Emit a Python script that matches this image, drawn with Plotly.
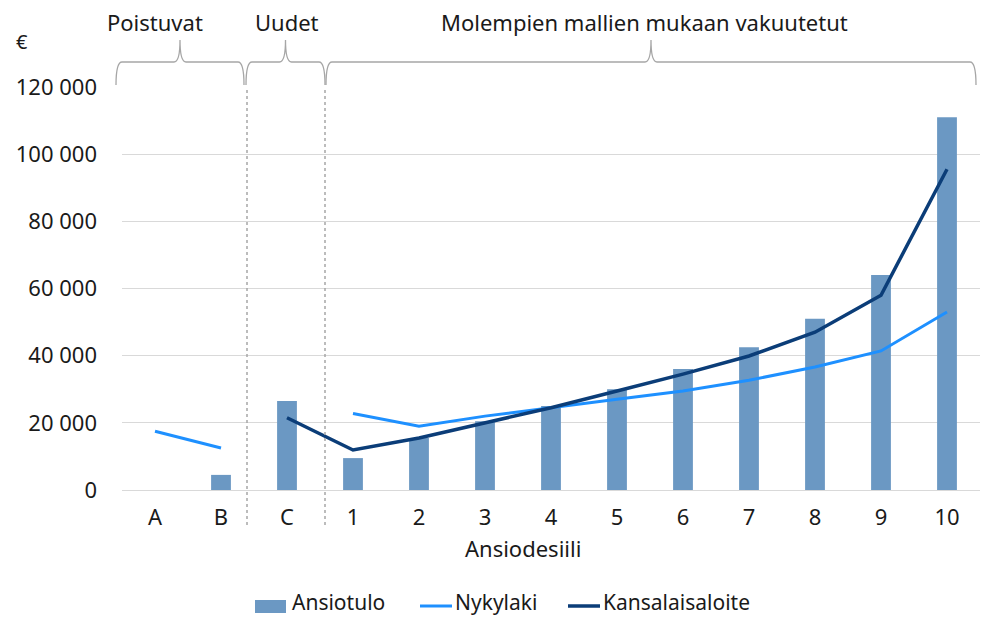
import plotly.graph_objects as go

categories = ["A", "B", "C", "1", "2", "3", "4", "5", "6", "7", "8", "9", "10"]
ansiotulo = [None, 4500, 26500, 9500, 15500, 20500, 25000, 30000, 36000, 42500, 51000, 64000, 111000]
nykylaki = [17500, 12500, None, 22800, 19000, 22000, 24400, 27000, 29500, 32700, 36600, 41400, 53000]
kansalaisaloite = [None, None, 21500, 11900, 15500, 20000, 24500, 29500, 34500, 39900, 47000, 58000, 95500]
y_ticks = [0, 20000, 40000, 60000, 80000, 100000, 120000]
groups = ["Poistuvat", "Uudet", "Molempien mallien mukaan vakuutetut"]
series_names = ["Ansiotulo", "Nykylaki", "Kansalaisaloite"]
colors = ["#6b98c3", "#1e90ff", "#0b3d78"]

FONT = "Noto Sans"
FS = 22
TXT = "#1a1a1a"
GRAY = "#a6a6a6"

fig = go.Figure()
fig.add_trace(go.Bar(x=categories, y=ansiotulo, name=series_names[0],
                     marker=dict(color=colors[0], line=dict(width=0)), width=0.3,
                     showlegend=False))
fig.add_trace(go.Scatter(x=categories, y=nykylaki, name=series_names[1], mode="lines",
                         line=dict(color=colors[1], width=3), connectgaps=False,
                         showlegend=False))
fig.add_trace(go.Scatter(x=categories, y=kansalaisaloite, name=series_names[2], mode="lines",
                         line=dict(color=colors[2], width=3.5), connectgaps=False,
                         showlegend=False))

# page has an 8px body margin; figure drawn at offset (8, 8)
OFF = 8
W, H = 990 - OFF, 618 - OFF
# plot area in screen pixels
L, R, T, B = 122, 980, 87, 490
def px(x):
    return (x - L) / (R - L)
def py(y):
    return (B - y) / (B - T)

shapes = []
for xp in [247, 325]:
    shapes.append(dict(type="line", xref="paper", yref="paper", x0=px(xp), x1=px(xp),
                       y0=py(525), y1=py(87), line=dict(color=GRAY, width=1.5, dash="dot")))

def brace(x0, x1, ytop=62, ybot=85, ytip=40):
    xm = (x0 + x1) / 2
    r = 6
    pts = f"M {px(x0)},{py(ybot)} " \
          f"Q {px(x0)},{py(ytop)} {px(x0 + r)},{py(ytop)} " \
          f"L {px(xm - r)},{py(ytop)} " \
          f"Q {px(xm)},{py(ytop)} {px(xm)},{py(ytip)} " \
          f"Q {px(xm)},{py(ytop)} {px(xm + r)},{py(ytop)} " \
          f"L {px(x1 - r)},{py(ytop)} " \
          f"Q {px(x1)},{py(ytop)} {px(x1)},{py(ybot)}"
    return dict(type="path", xref="paper", yref="paper", path=pts,
                line=dict(color=GRAY, width=1.3))

brace_spans = [(116, 244), (246, 325), (326, 976)]
label_centers = [155, 287, 644]
for a, b in brace_spans:
    shapes.append(brace(a, b))

annotations = []
for xc, g in zip(label_centers, groups):
    annotations.append(dict(xref="paper", yref="paper", x=px(xc), y=py(22),
                            text=g, showarrow=False, font=dict(size=FS, color=TXT, family=FONT),
                            xanchor="center", yanchor="middle"))
annotations.append(dict(xref="paper", yref="paper", x=px(14), y=py(42), text="€",
                        showarrow=False, font=dict(size=FS - 2, color=TXT, family=FONT),
                        xanchor="left", yanchor="middle"))
annotations.append(dict(xref="paper", yref="paper", x=px(523), y=py(548), text="Ansiodesiili",
                        showarrow=False, font=dict(size=FS, color=TXT, family=FONT),
                        xanchor="center", yanchor="middle"))

# custom legend
ly = 606
ty = 602
shapes.append(dict(type="rect", xref="paper", yref="paper", x0=px(255), x1=px(286),
                   y0=py(613), y1=py(600), fillcolor=colors[0], line=dict(width=0)))
shapes.append(dict(type="line", xref="paper", yref="paper", x0=px(420), x1=px(452),
                   y0=py(ly), y1=py(ly), line=dict(color=colors[1], width=3)))
shapes.append(dict(type="line", xref="paper", yref="paper", x0=px(568), x1=px(600),
                   y0=py(ly), y1=py(ly), line=dict(color=colors[2], width=3.5)))
for xt, nm in zip([291, 454, 602], series_names):
    annotations.append(dict(xref="paper", yref="paper", x=px(xt), y=py(ty), text=nm,
                            showarrow=False, font=dict(size=FS - 1, color=TXT, family=FONT),
                            xanchor="left", yanchor="middle", borderpad=0))

fig.update_layout(
    width=W, height=H,
    margin=dict(l=L - OFF, r=990 - R, t=T - OFF, b=618 - B, autoexpand=False),
    paper_bgcolor="white", plot_bgcolor="white",
    separators=", ",
    font=dict(family=FONT, size=FS, color=TXT),
    bargap=0.7,
    shapes=shapes, annotations=annotations,
    showlegend=False,
)
fig.update_xaxes(type="category", showgrid=False, showline=False, ticks="", automargin=False,
                 tickfont=dict(size=FS, color=TXT), ticklabelstandoff=12)
fig.update_yaxes(range=[0, 120000], tickvals=y_ticks, tickformat=",d", automargin=False,
                 showgrid=True, gridcolor="#d9d9d9", gridwidth=1.3,
                 zeroline=True, zerolinecolor="#d9d9d9", zerolinewidth=1.3,
                 showline=False, ticks="", ticklabelstandoff=24,
                 tickfont=dict(size=FS, color=TXT))

fig.write_html("out.html")
